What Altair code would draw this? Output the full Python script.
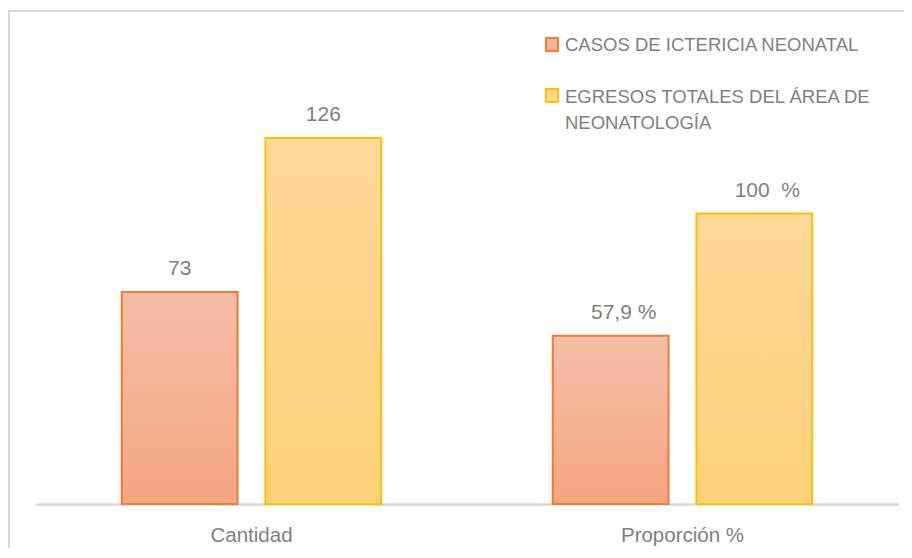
import altair as alt
import pandas as pd

categories = ["Cantidad", "Proporción %"]
series = ["CASOS DE ICTERICIA NEONATAL", "EGRESOS TOTALES DEL ÁREA DE NEONATOLOGÍA"]
casos = [73, 57.9]
egresos = [126, 100]
casos_labels = ["73", "57,9 %"]
egresos_labels = ["126", "100\u00a0 %"]
legend_labels = ["CASOS DE ICTERICIA NEONATAL", "EGRESOS TOTALES DEL ÁREA DE\nNEONATOLOGÍA"]

rows = []
for i, c in enumerate(categories):
    rows.append({"cat": c, "serie": series[0], "valor": casos[i], "etiqueta": casos_labels[i]})
    rows.append({"cat": c, "serie": series[1], "valor": egresos[i], "etiqueta": egresos_labels[i]})
df = pd.DataFrame(rows)

FONT = "Liberation Sans"
GRAY = "#7f7f7f"
ORANGE_LINE = "#ed7d31"
YELLOW_LINE = "#ffc000"

x_enc = alt.X("cat:N", sort=categories, title=None,
              scale=alt.Scale(paddingInner=0, paddingOuter=0),
              axis=alt.Axis(labelAngle=0, ticks=False, tickSize=0, domainColor="#d9d9d9",
                            domainWidth=2.5, labelFont=FONT, labelFontSize=20.5,
                            labelColor=GRAY, labelBaseline="alphabetic", labelPadding=37,
                            grid=False))
xo_enc = alt.XOffset("serie:N", sort=series,
                     scale=alt.Scale(domain=series, paddingInner=0.194, paddingOuter=0.597))
y_enc = alt.Y("valor:Q", title=None, scale=alt.Scale(domain=[0, 163.2], nice=False, zero=True),
              axis=None)

base = alt.Chart(df).encode(x=x_enc, xOffset=xo_enc, y=y_enc)

grad_orange = alt.Gradient(gradient="linear", x1=0, x2=0, y1=0, y2=1,
                           stops=[alt.GradientStop(color="#f6bea7", offset=0),
                                  alt.GradientStop(color="#f4a582", offset=1)])
grad_yellow = alt.Gradient(gradient="linear", x1=0, x2=0, y1=0, y2=1,
                           stops=[alt.GradientStop(color="#fed997", offset=0),
                                  alt.GradientStop(color="#fed27a", offset=1)])

bars_c = base.transform_filter(alt.datum.serie == series[0]).mark_bar(
    fill=grad_orange, stroke=ORANGE_LINE, strokeWidth=2)
bars_e = base.transform_filter(alt.datum.serie == series[1]).mark_bar(
    fill=grad_yellow, stroke=YELLOW_LINE, strokeWidth=2)

txt_cant = base.transform_filter(alt.datum.cat == categories[0]).mark_text(
    font=FONT, fontSize=21, color=GRAY, baseline="alphabetic", align="center", dy=-17
).encode(text="etiqueta:N")
txt_prop = base.transform_filter(alt.datum.cat == categories[1]).mark_text(
    font=FONT, fontSize=21, color=GRAY, baseline="alphabetic", align="center", dy=-17, dx=13
).encode(text="etiqueta:N")

one = alt.Chart(pd.DataFrame({"k": [0]}))

border = one.mark_rect(fillOpacity=0, stroke="#d9d9d9", strokeWidth=2).encode(
    x=alt.value(-27), x2=alt.value(880), y=alt.value(-19), y2=alt.value(600))

leg_sq1 = one.mark_rect(fill="#f5b395", stroke=ORANGE_LINE, strokeWidth=2).encode(
    x=alt.value(510), x2=alt.value(522), y=alt.value(8), y2=alt.value(21))
leg_sq2 = one.mark_rect(fill="#fed689", stroke=YELLOW_LINE, strokeWidth=2).encode(
    x=alt.value(510), x2=alt.value(522), y=alt.value(59), y2=alt.value(72))
leg_t1 = one.mark_text(font=FONT, fontSize=18.5, color=GRAY, align="left",
                       baseline="alphabetic", text=legend_labels[0]).encode(
    x=alt.value(529), y=alt.value(21))
leg_t2 = one.mark_text(font=FONT, fontSize=18.5, color=GRAY, align="left",
                       baseline="alphabetic", lineBreak="\n", lineHeight=26,
                       text=legend_labels[1]).encode(
    x=alt.value(529), y=alt.value(73))

chart = alt.layer(border, bars_c, bars_e, txt_cant, txt_prop,
                  leg_sq1, leg_sq2, leg_t1, leg_t2).properties(
    width=862, height=474,
    autosize=alt.AutoSizeParams(type="none"),
    padding={"left": 28, "top": 22, "right": 6, "bottom": 44},
    background="white",
).configure_view(strokeWidth=0)

chart.save("out.html", embed_options={"renderer": "svg", "actions": False})
